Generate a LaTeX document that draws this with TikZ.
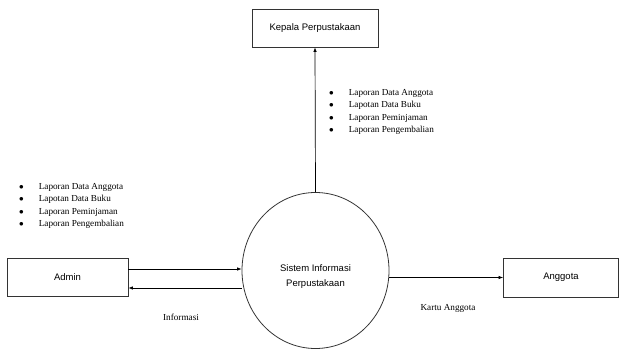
\documentclass[tikz,border=0pt]{standalone}
\usepackage{fontspec}
\setmainfont{Liberation Serif}
\newfontfamily\arialfont{Liberation Sans}
\usetikzlibrary{shapes.geometric,arrows.meta}
\tikzset{
  entity/.style={draw=black!80, line width=0.8pt, inner sep=0pt, font=\arialfont\fontsize{9.5}{11}\selectfont},
  proc/.style={draw=black!80, line width=0.8pt, ellipse, inner sep=0pt, minimum width=147pt, minimum height=156pt},
  proctext/.style={align=center, inner sep=0pt, font=\arialfont\fontsize{9.5}{15}\selectfont},
  flow/.style={line width=0.7pt, -{Latex[length=4.5pt,width=3.5pt]}},
  lbl/.style={font=\fontsize{9.2}{10}\selectfont, inner sep=0pt},
  bul/.style={font=\fontsize{9.2}{10}\selectfont, inner sep=0pt, anchor=west},
}
\begin{document}
\begin{tikzpicture}[x=1pt,y=-1pt]
\useasboundingbox (0,0) rectangle (619,361);
\node[entity, minimum width=126pt, minimum height=38pt] (kep) at (315,28) {Kepala Perpustakaan};
\node[entity, minimum width=121pt, minimum height=38pt] (adm) at (67.5,277) {Admin};
\node[entity, minimum width=115pt, minimum height=39pt] (ang) at (561,277.5) {Anggota};
\node[proc, label={[proctext, yshift=-6pt]center:Sistem Informasi\\Perpustakaan}] (sis) at (315.5,270.5) {};
% flows
\draw[flow] (sis.north) -- (kep.south);
\coordinate (a1) at (adm.east |- 0,269);
\coordinate (a2) at (adm.east |- 0,288);
\draw[flow] (a1) -- (sis.west |- a1);
\draw[flow] (sis.west |- a2) -- (a2);
\coordinate (s3) at ([xshift=-0.5pt]sis.east |- ang.west);
\draw[flow] (s3) -- (ang.west);
% labels
\node[lbl] (inf) at (181,317) {Informasi};
\node[lbl] (kar) at (448,308) {Kartu Anggota};
% lists
\foreach \t [count=\i] in {Laporan Data Anggota,Lapotan Data Buku,Laporan Peminjaman,Laporan Pengembalian}{
  \node[bul] (tb\i) at (329,80.5+12.5*\i) {$\bullet$\hspace{15pt}\t};
  \node[bul] (lb\i) at (19,174.5+12.5*\i) {$\bullet$\hspace{15pt}\t};
}
\end{tikzpicture}
\end{document}
